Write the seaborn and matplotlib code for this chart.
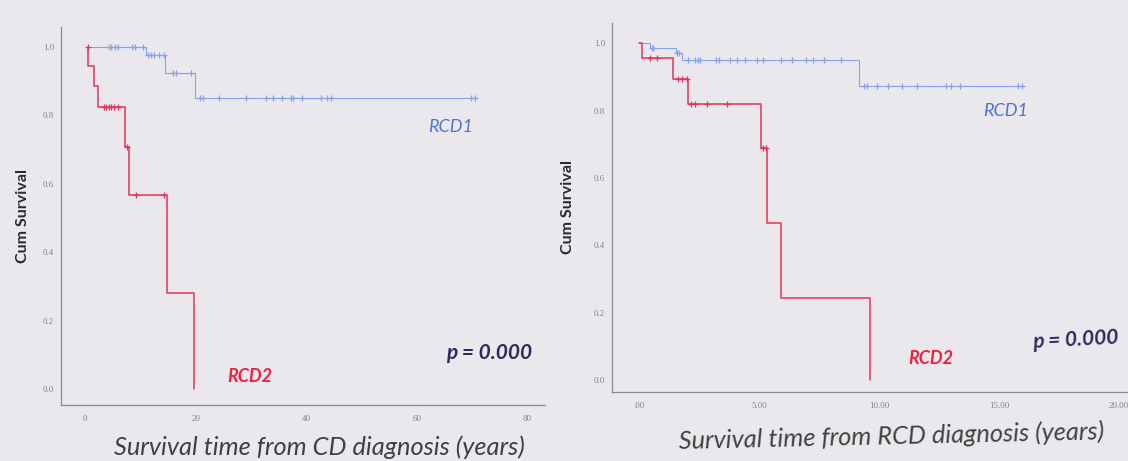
import numpy as np
import pandas as pd
import seaborn as sns
import matplotlib.pyplot as plt

# ---------------- data ----------------
# Left panel: survival from CD diagnosis (years)
cd_rcd1_time = [0.45, 11.1, 14.47, 19.8, 70.5]
cd_rcd1_surv = [1.0, 0.976, 0.924, 0.85, 0.85]
cd_rcd1_cens = [4.33, 4.78, 5.42, 5.94, 8.5, 9.04, 10.5,
                11.4, 11.9, 12.4, 13.4, 14.3,
                15.95, 16.4, 19.2,
                20.8, 21.3, 24.3, 29.2, 32.7, 34.0, 35.6, 37.3, 37.6, 39.2,
                42.7, 43.7, 44.4, 69.9, 70.5]

cd_rcd2_time = [0.45, 0.6, 1.55, 2.39, 7.23, 8.0, 14.85, 19.7]
cd_rcd2_surv = [1.0, 0.944, 0.885, 0.823, 0.706, 0.567, 0.282, 0.0]
cd_rcd2_cens = [0.45, 3.36, 3.87, 4.33, 4.78, 5.3, 5.94, 7.56, 9.17, 14.3]

# Right panel: survival from RCD diagnosis (years)
rcd_rcd1_time = [0.0, 0.46, 1.54, 1.79, 9.18, 16.0]
rcd_rcd1_surv = [1.0, 0.985, 0.972, 0.95, 0.872, 0.872]
rcd_rcd1_cens = [0.54, 0.6, 1.58, 1.67,
                 2.05, 2.33, 2.47, 2.54, 3.2, 3.35, 3.8, 4.1, 4.4, 4.93, 5.16,
                 5.91, 6.37, 6.97, 7.27, 7.72, 8.4,
                 9.38, 9.5, 9.91, 10.36, 10.97, 11.57, 12.78, 13.0, 13.38,
                 15.79, 15.94]

rcd_rcd2_time = [0.0, 0.11, 1.43, 2.05, 5.1, 5.34, 5.91, 9.64]
rcd_rcd2_surv = [1.0, 0.955, 0.895, 0.818, 0.688, 0.467, 0.244, 0.0]
rcd_rcd2_cens = [0.46, 0.76, 1.64, 1.78, 2.01, 2.19, 2.33, 2.82, 3.65,
                 5.16, 5.28]

left_xticks = [0, 20, 40, 60, 80]
left_xticklabels = ["0", "20", "40", "60", "80"]
right_xticks = [0, 5, 10, 15, 20]
right_xticklabels = [".00", "5.00", "10.00", "15.00", "20.00"]
yticks = [0.0, 0.2, 0.4, 0.6, 0.8, 1.0]
yticklabels = ["0.0", "0.2", "0.4", "0.6", "0.8", "1.0"]

group_names = ["RCD1", "RCD2"]
p_text = "p = 0.000"
ylabel = "Cum Survival"
left_xlabel = "Survival time from CD diagnosis (years)"
right_xlabel = "Survival time from RCD diagnosis (years)"

# ---------------- style ----------------
sns.set_theme(style="white")
plt.rcParams['font.family'] = ['Lato', 'DejaVu Sans']

BG = "#eae8ec"
RED = "#e2335a"
BLUE = "#86a2ee"
RED_TXT = "#f0213f"
BLUE_TXT = "#4d72d8"
NAVY = "#2b2c5c"
SPINE = "#8c8a90"
TICK = "#85838a"

W, H = 1128, 461
fig = plt.figure(figsize=(W / 100, H / 100), dpi=100, facecolor=BG)


def px_axes(x0, x1, y_top, y_bot):
    return [x0 / W, 1 - y_bot / H, (x1 - x0) / W, (y_bot - y_top) / H]


def step_at(times, surv, t):
    idx = np.searchsorted(np.asarray(times), np.asarray(t), side="right") - 1
    idx = np.clip(idx, 0, len(surv) - 1)
    return np.asarray(surv)[idx]


def km_panel(ax, curves):
    for times, surv, cens, color, lw in curves:
        df = pd.DataFrame({"t": times, "s": surv})
        sns.lineplot(data=df, x="t", y="s", ax=ax, color=color, linewidth=lw,
                     drawstyle="steps-post", estimator=None, sort=False,
                     errorbar=None)
        cdf = pd.DataFrame({"t": cens, "s": step_at(times, surv, cens)})
        sns.scatterplot(data=cdf, x="t", y="s", ax=ax, marker="+", s=22,
                        color=color, linewidth=0.9, zorder=3)
    ax.set_facecolor("none")
    for side in ["top", "right"]:
        ax.spines[side].set_visible(False)
    for side in ["left", "bottom"]:
        ax.spines[side].set_color(SPINE)
        ax.spines[side].set_linewidth(0.9)
    ax.set_yticks(yticks)
    ax.set_yticklabels(yticklabels)
    ax.tick_params(axis="both", length=0, labelsize=6.5, labelcolor=TICK)
    ax.tick_params(axis="y", pad=5)
    ax.tick_params(axis="x", pad=7)
    ax.set_xlabel("")
    ax.set_ylabel("")


def serif_ticks(ax):
    for lab in ax.get_xticklabels() + ax.get_yticklabels():
        lab.set_family("Liberation Serif")


# Left panel
ax1 = fig.add_axes(px_axes(61, 545, 27, 405))
km_panel(ax1, [
    (cd_rcd1_time, cd_rcd1_surv, cd_rcd1_cens, BLUE, 0.8),
    (cd_rcd2_time, cd_rcd2_surv, cd_rcd2_cens, RED, 1.1),
])
ax1.set_xticks(left_xticks)
ax1.set_xticklabels(left_xticklabels)
serif_ticks(ax1)
ax1.set_xlim(-4.35, 83.2)
ax1.set_ylim(-0.046, 1.0575)
ax1.text(66.2, 0.766, group_names[0], color=BLUE_TXT, fontsize=13,
         style="italic", ha="center", va="center")
ax1.text(29.8, 0.037, group_names[1], color=RED_TXT, fontsize=13,
         style="italic", weight="bold", ha="center", va="center")
ax1.text(73.1, 0.105, p_text, color=NAVY, fontsize=15,
         style="italic", weight="bold", ha="center", va="center")

# Right panel
ax2 = fig.add_axes(px_axes(612, 1155, 23, 392))
km_panel(ax2, [
    (rcd_rcd1_time, rcd_rcd1_surv, rcd_rcd1_cens, BLUE, 0.8),
    (rcd_rcd2_time, rcd_rcd2_surv, rcd_rcd2_cens, RED, 1.1),
])
ax2.set_xticks(right_xticks)
ax2.set_xticklabels(right_xticklabels)
serif_ticks(ax2)
ax2.set_xlim(-1.12, 21.5)
ax2.set_ylim(-0.036, 1.06)
ax2.text(15.27, 0.798, group_names[0], color=BLUE_TXT, fontsize=13,
         style="italic", ha="center", va="center")
ax2.text(12.17, 0.064, group_names[1], color=RED_TXT, fontsize=13,
         style="italic", weight="bold", ha="center", va="center")
ax2.text(18.2, 0.119, p_text, color=NAVY, fontsize=15, rotation=3,
         style="italic", weight="bold", ha="center", va="center")

# Axis titles
fig.text(23 / W, 1 - 216 / H, ylabel, rotation=90, fontsize=11.5,
         weight="bold", color="#2a2a2a", ha="center", va="center")
fig.text(568 / W, 1 - 207 / H, ylabel, rotation=90, fontsize=11.5,
         weight="bold", color="#2a2a2a", ha="center", va="center")
fig.text(319 / W, 1 - 447 / H, left_xlabel, fontsize=18.3, style="italic",
         color="#404040", ha="center", va="center")
fig.text(891.5 / W, 1 - 436.7 / H, right_xlabel, fontsize=18.3, style="italic",
         color="#404040", ha="center", va="center", rotation=1.3)

fig.savefig("out.png", dpi=100, facecolor=BG)
